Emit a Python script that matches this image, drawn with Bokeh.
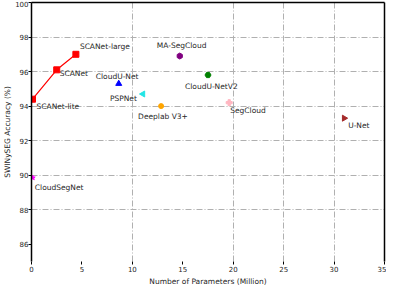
import math
from bokeh.plotting import figure
from bokeh.models import ColumnDataSource, LinearAxis, FixedTicker
from bokeh.core.properties import value
from bokeh.embed import file_html
from bokeh.resources import INLINE

# ---- data ----
models = ["SCANet-lite", "SCANet", "SCANet-large", "CloudU-Net", "PSPNet",
          "Deeplab V3+", "MA-SegCloud", "CloudU-NetV2", "SegCloud", "U-Net",
          "CloudSegNet"]
params = [0.1, 2.5, 4.4, 8.65, 11.05, 12.85, 14.7, 17.5, 19.6, 31.0, 0.13]
accuracy = [94.4, 96.1, 97.0, 95.3, 94.7, 94.0, 96.9, 95.8, 94.2, 93.3, 89.85]

scanet_params = params[:3]
scanet_acc = accuracy[:3]

x_ticks = [0, 5, 10, 15, 20, 25, 30, 35]
y_ticks = [86, 88, 90, 92, 94, 96, 98, 100]

# ---- styles ----
colors = ["#ff0000", "#ff0000", "#ff0000", "#0000ff", "#22e5e5", "#ffa500",
          "#800080", "#008000", "#ffb6c1", "#a52a2a", "#ff00ff"]
markers = ["square", "square", "square", "triangle", "triangle", "circle",
           "hex", "hex", "plus", "triangle", "star"]
sizes = [6, 6, 6, 6, 6, 5, 6, 6, 6, 6, 5]
angles = [0, 0, 0, 0, math.pi / 2, 0, math.pi / 2, 0, 0, -math.pi / 2, 0]
label_dx = [4, 3, 4, -23, -33, -23, -23, -23, 1, 4, 2]
label_dy = [7, 4, -8, -7, 4, 10, -11, 11, 8, 7, 10]

FONT = "DejaVu Sans"
TXT = "#262626"

p = figure(width=386, height=288, x_range=(0, 35), y_range=(85, 100),
           output_backend="svg", toolbar_location=None,
           min_border_left=0, min_border_right=2, min_border_top=2,
           min_border_bottom=0)
p.outline_line_color = None
p.background_fill_color = "white"
p.border_fill_color = "white"

# grid
for g in (p.xgrid, p.ygrid):
    g.grid_line_color = "#b0b0b0"
    g.grid_line_dash = "6 2 1 2"
    g.grid_line_width = 1
p.xgrid.ticker = FixedTicker(ticks=[10, 20, 25, 30])
p.ygrid.ticker = FixedTicker(ticks=[88, 90, 92, 94, 96, 98])

# axes
for ax in (p.xaxis, p.yaxis):
    ax.minor_tick_line_color = None
    ax.major_tick_in = 0
    ax.major_tick_out = 3
    ax.major_tick_line_color = "black"
    ax.major_label_text_font = FONT
    ax.major_label_text_font_size = "7px"
    ax.major_label_text_color = TXT
    ax.major_label_standoff = 1
    ax.axis_label_text_font = FONT
    ax.axis_label_text_font_size = "7.5px"
    ax.axis_label_text_font_style = "normal"
    ax.axis_label_text_color = TXT
    ax.axis_label_standoff = 2
p.yaxis.major_label_standoff = 0
p.yaxis.axis_label_standoff = 0
p.xaxis.ticker = FixedTicker(ticks=x_ticks)
p.yaxis.ticker = FixedTicker(ticks=y_ticks)
p.xaxis.axis_line_color = None
p.yaxis.axis_line_color = "black"
p.yaxis.axis_line_width = 1.5
p.xaxis.axis_label = "Number of Parameters (Million)"
p.yaxis.axis_label = "SWINySEG Accuracy (%)"

for loc in ("right", "above"):
    a = LinearAxis(ticker=FixedTicker(ticks=[]), major_tick_out=0,
                   major_tick_in=0, major_label_text_font_size="0px",
                   major_label_standoff=0, minor_tick_line_color=None,
                   axis_label_standoff=0,
                   axis_line_color="black", axis_line_width=1.5)
    p.add_layout(a, loc)

# data
p.line(scanet_params, scanet_acc, line_color="#ff0000", line_width=1.2)

src = ColumnDataSource(dict(x=params, y=accuracy, name=models, color=colors,
                            marker=markers, size=sizes, angle=angles,
                            dx=label_dx, dy=label_dy))
p.scatter("x", "y", source=src, marker="marker", size="size", angle="angle",
          fill_color="color", line_color="color")
p.text("x", "y", text="name", source=src, x_offset="dx", y_offset="dy",
       text_font=value(FONT), text_font_size="7.5px", text_color=TXT,
       text_baseline="middle", text_align="left")

open("out.html", "w").write(file_html(p, INLINE))
